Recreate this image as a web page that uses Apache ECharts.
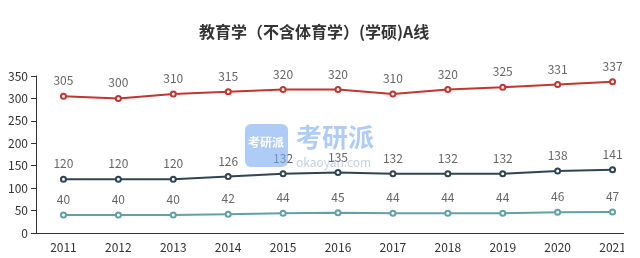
<!DOCTYPE html>
<html><head><meta charset="utf-8">
<script src="https://cdn.jsdelivr.net/npm/echarts@6/dist/echarts.min.js"></script>
<style>html,body{margin:0;padding:0;background:#fff}#c{width:640px;height:258px}</style>
</head><body><div id="c"></div>
<script>
const titleText = '教育学（不含体育学）(学硕)A线';
const years = ['2011','2012','2013','2014','2015','2016','2017','2018','2019','2020','2021'];
const seriesA = [305,300,310,315,320,320,310,320,325,331,337];
const seriesB = [120,120,120,126,132,135,132,132,132,138,141];
const seriesC = [40,40,40,42,44,45,44,44,44,46,47];
const colors = ['#c23531','#2f4554','#61a0a8'];
const font = '"Microsoft YaHei","Noto Sans CJK SC","DejaVu Sans",sans-serif';

const chart = echarts.init(document.getElementById('c'), null, {renderer:'canvas'});
function mk(data, i){
  return {type:'line', data, symbol:'emptyCircle', symbolSize:5,
    lineStyle:{width:2,color:colors[i]}, itemStyle:{color:colors[i]},
    label:{show:true, position:'top', color:'#666', fontSize:12, fontFamily:font, distance:6}};
}
chart.setOption({
  animation:false,
  textStyle:{fontFamily:font},
  title:{text:titleText, left:194, top:19, textStyle:{fontSize:16, fontWeight:'bold', color:'#333', fontFamily:font}},
  grid:{left:36, top:76, width:605, bottom:25},
  xAxis:{type:'category', data:years, boundaryGap:true,
    axisLine:{lineStyle:{color:'#333'}}, axisTick:{lineStyle:{color:'#333'}},
    axisLabel:{color:'#333', fontSize:12, margin:8}},
  yAxis:{type:'value', min:0, max:350, interval:50,
    axisLine:{show:true, lineStyle:{color:'#333'}}, axisTick:{show:true, lineStyle:{color:'#333'}},
    splitLine:{show:false}, axisLabel:{color:'#333', fontSize:12, margin:8}},
  series:[mk(seriesA,0), mk(seriesB,1), mk(seriesC,2)],
  graphic:[
    {type:'rect', left:245, top:124, shape:{width:43, height:43, r:6}, style:{fill:'rgba(120,170,240,0.6)'}, z:100},
    {type:'text', left:248, top:136, style:{text:'考研派', fill:'#fff', font:'bold 12px '+font}, z:101},
    {type:'text', left:296, top:124, style:{text:'考研派', fill:'rgba(120,170,240,0.6)', font:'bold 26px '+font}, z:100},
    {type:'text', left:296, top:156, style:{text:'okaoyan.com', fill:'rgba(120,150,200,0.45)', font:'12px '+font}, z:100},
    {type:'rect', left:624, top:0, shape:{width:16, height:258}, style:{fill:'#fff'}, z:200}
  ]
});
</script></body></html>
